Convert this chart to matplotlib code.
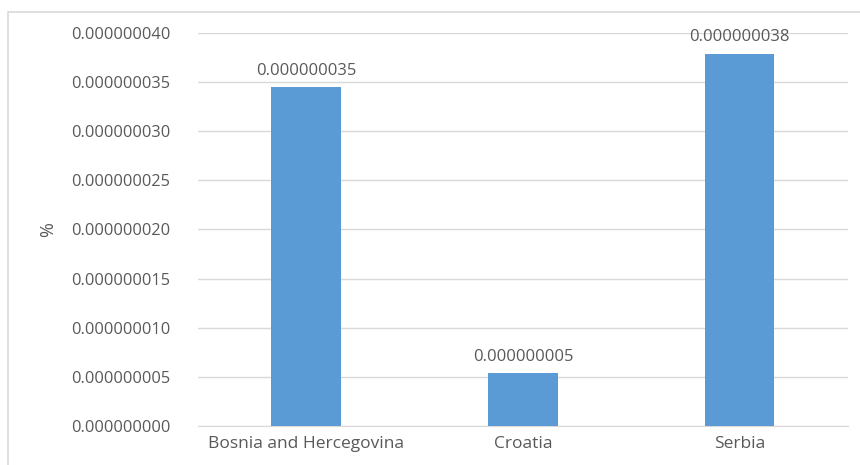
import matplotlib
matplotlib.use("Agg")
import matplotlib.pyplot as plt
from matplotlib.patches import Rectangle
from matplotlib.ticker import FuncFormatter, MultipleLocator

countries = ["Bosnia and Hercegovina", "Croatia", "Serbia"]
values = [3.45e-8, 5.4e-9, 3.79e-8]
labels = ["0.000000035", "0.000000005", "0.000000038"]

BAR = "#5b9bd5"
TXT = "#595959"
GRID = "#d9d9d9"

plt.rcParams["font.family"] = ["Open Sans", "DejaVu Sans"]

fig = plt.figure(figsize=(8.6, 4.65), dpi=100)
ax = fig.add_axes([0.230, 0.084, 0.756, 0.845])

x = range(len(countries))
bars = ax.bar(x, values, width=0.32, color=BAR, zorder=3)
for b, lab in zip(bars, labels):
    ax.annotate(lab, (b.get_x() + b.get_width() / 2, b.get_height()),
                xytext=(0, 6), textcoords="offset points",
                ha="center", va="bottom", fontsize=12, color=TXT, zorder=4)

ax.set_xlim(-0.5, 2.5)
ax.set_ylim(0, 4e-8)
ax.yaxis.set_major_locator(MultipleLocator(5e-9))
ax.yaxis.set_major_formatter(FuncFormatter(lambda v, p: f"{v:.9f}"))
ax.set_xticks(list(x))
ax.set_xticklabels(countries, fontsize=12.5)
ax.tick_params(length=0, colors=TXT)
ax.tick_params(axis="y", pad=20, labelsize=11.8)
ax.tick_params(axis="x", pad=7)
ax.grid(axis="y", color=GRID, lw=1, zorder=0)
for s in ["top", "right", "left"]:
    ax.spines[s].set_visible(False)
ax.spines["bottom"].set_color(GRID)
ax.set_ylabel("%", color=TXT, fontsize=13, labelpad=10)

fig.patches.append(Rectangle((0.009, -0.01), 1.0, 0.984, transform=fig.transFigure,
                             fill=False, edgecolor=GRID, lw=1.2))

fig.savefig("out.png", dpi=100)
